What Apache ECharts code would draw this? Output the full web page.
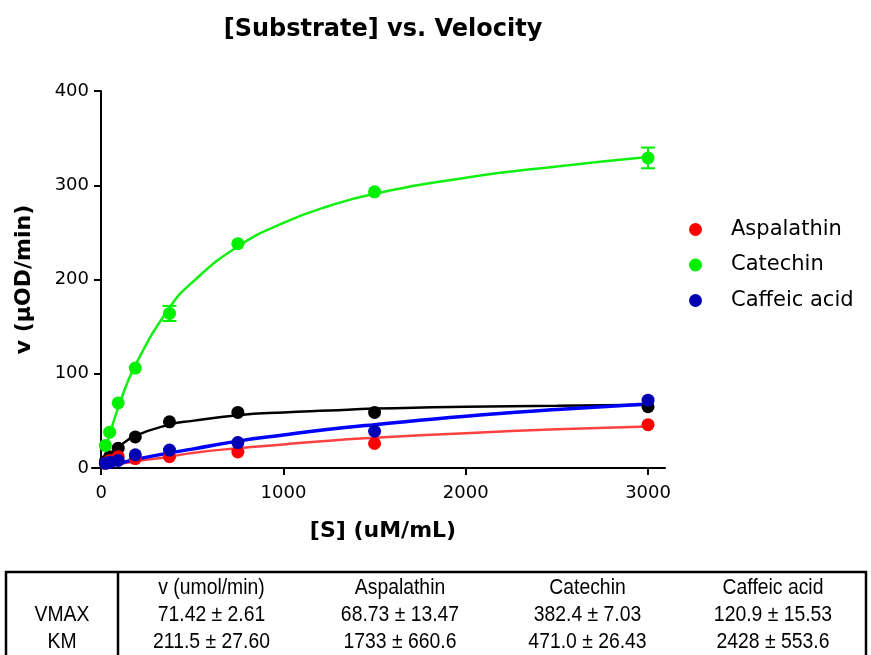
<!DOCTYPE html>
<html>
<head>
<meta charset="utf-8">
<script src="https://cdn.jsdelivr.net/npm/echarts@6/dist/echarts.min.js"></script>
<style>html,body{margin:0;padding:0;background:#fff;}#c{width:871px;height:655px;}</style>
</head>
<body>
<div id="c"></div>
<script>
// ---- data ----
const substrate = [23.4375, 46.875, 93.75, 187.5, 375, 750, 1500, 3000];
const blackV    = [7, 12, 21, 33, 49, 59, 59, 65];
const aspalathinV = [5, 8, 12, 10, 12, 17, 26, 46];
const catechinV = [24, 38, 69, 106, 164, 238, 293, 329];
const caffeicV  = [5, 6, 8, 14, 19, 27, 39, 72];
// error bars (0 = hidden behind the symbol)
const blackErr  = [0, 0, 0, 0, 0, 0, 0, 0];
const aspalathinErr = [0, 0, 0, 0, 0, 0, 0, 0];
const catechinErr = [0, 0, 0, 0, 8, 0, 0, 11];
const caffeicErr = [0, 0, 0, 0, 0, 0, 0, 0];

// fitted curves
const curveX = [23.4375, 46.875, 93.75, 187.5, 375, 500, 750, 1000, 1250, 1500, 2000, 2500, 3000];
const blackCurve = [7, 13, 22, 34, 46, 50, 56, 59, 61, 63, 65, 66, 67];
const aspalathinCurve = [1, 2, 4, 7, 12, 16, 21, 25, 29, 32, 37, 41, 44];
const catechinCurve = [18, 35, 64, 109, 170, 197, 235, 260, 278, 291, 308, 320, 330];
const caffeicCurve = [1, 2, 4.5, 9, 16, 20, 28.5, 35, 41, 46, 55, 62, 68];

const xTicks = [0, 1000, 2000, 3000];
const yTicks = [0, 100, 200, 300, 400];

const legendNames = ['Aspalathin', 'Catechin', 'Caffeic acid'];

const tableHeader = ['', 'v (umol/min)', 'Aspalathin', 'Catechin', 'Caffeic acid'];
const tableRows = [
  ['VMAX', '71.42 \u00b1 2.61', '68.73 \u00b1 13.47', '382.4 \u00b1 7.03', '120.9 \u00b1 15.53'],
  ['KM', '211.5 \u00b1 27.60', '1733 \u00b1 660.6', '471.0 \u00b1 26.43', '2428 \u00b1 553.6']
];

// ---- build ----
const FONT = '"DejaVu Sans", Verdana, sans-serif';
const pairs = (xs, ys) => xs.map((x, i) => [x, ys[i]]);
const errData = (xs, ys, es) => xs.map((x, i) => [x, ys[i] - es[i], ys[i] + es[i], es[i]]);

function errSeries(name, color, xs, ys, es) {
  return {
    type: 'custom', name: name + ' err', z: 3,
    data: errData(xs, ys, es),
    renderItem: function (params, api) {
      if (!api.value(3)) return null;
      const x = api.value(0);
      const lo = api.coord([x, api.value(1)]);
      const hi = api.coord([x, api.value(2)]);
      const w = 7;
      const st = { stroke: color, lineWidth: 2 };
      return { type: 'group', children: [
        { type: 'line', shape: { x1: lo[0], y1: lo[1], x2: hi[0], y2: hi[1] }, style: st },
        { type: 'line', shape: { x1: lo[0] - w, y1: lo[1], x2: lo[0] + w, y2: lo[1] }, style: st },
        { type: 'line', shape: { x1: hi[0] - w, y1: hi[1], x2: hi[0] + w, y2: hi[1] }, style: st }
      ]};
    },
    silent: true
  };
}
function curveSeries(name, color, ys, width) {
  return { type: 'line', name: name + ' fit', data: pairs(curveX, ys), smooth: true, showSymbol: false,
    lineStyle: { color: color, width: width }, z: 2, silent: true };
}
function pointSeries(name, color, ys) {
  return { type: 'scatter', name: name, data: pairs(substrate, ys), symbol: 'circle', symbolSize: 13,
    itemStyle: { color: color, opacity: 1 }, z: 4 };
}

const seriesDefs = [
  { name: 'v (umol/min)', point: '#000000', line: '#000000', ys: blackV, es: blackErr, curve: blackCurve, w: 2.5 },
  { name: 'Aspalathin', point: '#ff0000', line: '#ff4040', ys: aspalathinV, es: aspalathinErr, curve: aspalathinCurve, w: 2.5 },
  { name: 'Catechin', point: '#00f000', line: '#10f010', ys: catechinV, es: catechinErr, curve: catechinCurve, w: 2.5 },
  { name: 'Caffeic acid', point: '#0000b4', line: '#0000ff', ys: caffeicV, es: caffeicErr, curve: caffeicCurve, w: 3.5 }
];
const series = [];
seriesDefs.forEach(d => {
  series.push(curveSeries(d.name, d.line, d.curve, d.w));
  series.push(errSeries(d.name, d.point, substrate, d.ys, d.es));
  series.push(pointSeries(d.name, d.point, d.ys));
});

// table graphics
const colEdges = [6, 118, 305, 495, 680, 866];
const rowY = [588, 615, 642];
const TFONT = '"Liberation Sans", Arial, sans-serif';
const graphics = [];
const allRows = [tableHeader].concat(tableRows);
allRows.forEach((row, r) => {
  row.forEach((txt, c) => {
    if (!txt) return;
    graphics.push({ type: 'text', x: (colEdges[c] + colEdges[c + 1]) / 2, y: rowY[r], scaleX: 0.88,
      style: { text: txt, fill: '#000', font: '22px ' + TFONT, textAlign: 'center', textVerticalAlign: 'middle' } });
  });
});
graphics.push({ type: 'line', shape: { x1: 5, y1: 572, x2: 867, y2: 572 }, style: { stroke: '#000', lineWidth: 2.5 } });
graphics.push({ type: 'line', shape: { x1: 6, y1: 571, x2: 6, y2: 660 }, style: { stroke: '#000', lineWidth: 2.5 } });
graphics.push({ type: 'line', shape: { x1: 118, y1: 571, x2: 118, y2: 660 }, style: { stroke: '#000', lineWidth: 2.5 } });
graphics.push({ type: 'line', shape: { x1: 866, y1: 571, x2: 866, y2: 660 }, style: { stroke: '#000', lineWidth: 2.5 } });

const chart = echarts.init(document.getElementById('c'), null, { renderer: 'canvas' });
chart.setOption({
  animation: false,
  backgroundColor: '#fff',
  title: { text: '[Substrate] vs. Velocity', left: 378, top: 13, textAlign: 'center',
    textStyle: { fontFamily: FONT, fontSize: 24, fontWeight: 'bold', color: '#000' } },
  legend: {
    data: legendNames, orient: 'vertical', left: 689, top: 219, padding: 0,
    icon: 'circle', itemWidth: 13, itemHeight: 13, itemGap: 14.5,
    textStyle: { fontFamily: FONT, fontSize: 21, color: '#000', padding: [0, 0, 0, 24] }
  },
  grid: { left: 92, right: 206, top: 91, bottom: 187, containLabel: false },
  xAxis: {
    type: 'value', min: -50, max: 3093,
    name: '[S] (uM/mL)', nameLocation: 'middle', nameGap: 52,
    nameTextStyle: { fontFamily: FONT, fontSize: 22, fontWeight: 'bold', color: '#000', padding: [0, 0, 0, 9] },
    axisLine: { show: true, onZero: false, lineStyle: { color: '#000', width: 2 } },
    axisTick: { show: true, length: 7, lineStyle: { color: '#000', width: 2 }, customValues: xTicks },
    axisLabel: { fontFamily: FONT, fontSize: 18, color: '#000', margin: 16, customValues: xTicks,
      formatter: v => String(v) },
    splitLine: { show: false }
  },
  yAxis: {
    type: 'value', min: 0, max: 400, interval: 100, offset: -9,
    name: 'v (\u00b5OD/min)', nameLocation: 'middle', nameGap: 66,
    nameTextStyle: { fontFamily: FONT, fontSize: 22, fontWeight: 'bold', color: '#000' },
    axisLine: { show: true, onZero: false, lineStyle: { color: '#000', width: 2 } },
    axisTick: { show: true, length: 7, lineStyle: { color: '#000', width: 2 }, customValues: yTicks },
    axisLabel: { fontFamily: FONT, fontSize: 18, color: '#000', margin: 12, customValues: yTicks },
    splitLine: { show: false }
  },
  series: series,
  graphic: graphics
});
</script>
</body>
</html>
